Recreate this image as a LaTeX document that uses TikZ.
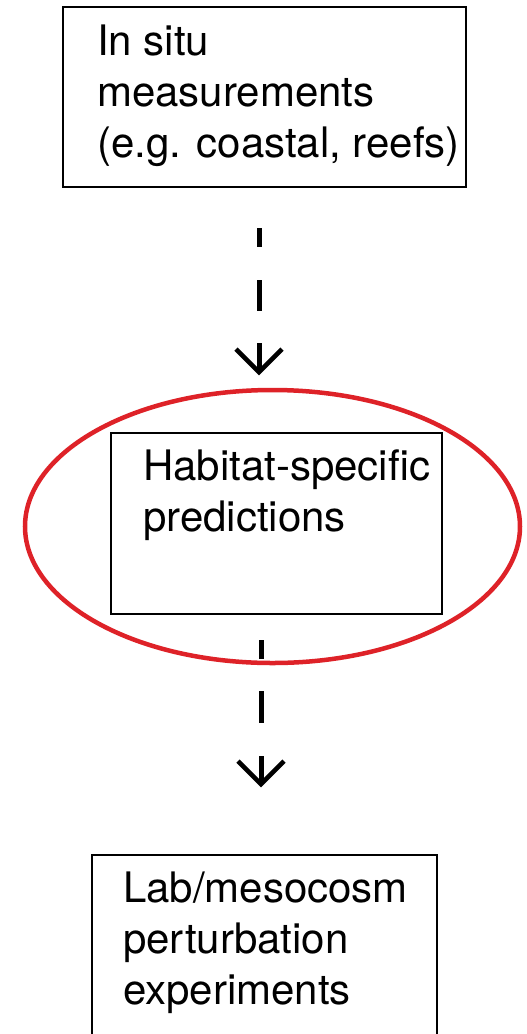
\documentclass[tikz,border=0pt]{standalone}
\usepackage{fontspec}
\setmainfont{TeX Gyre Heros}
\usetikzlibrary{shapes.geometric,arrows.meta}

\definecolor{ringred}{RGB}{222,34,40}

\tikzset{
  stagebox/.style={draw=black, line width=2.5pt, rectangle, inner sep=0pt},
  stagetext/.style={anchor=base west, align=left, inner sep=0pt,
    font=\fontsize{42}{51}\selectfont},
  focusring/.style={draw=ringred, line width=4.5pt, ellipse, inner sep=0pt},
  flowarrow/.style={line width=5pt,
    -{Straight Barb[length=23pt, width=46pt, line width=4.5pt]}},
}

\begin{document}
\begin{tikzpicture}[x=1pt, y=-1pt]
  \clip (0,0) rectangle (527,1034);
  \useasboundingbox (0,0) rectangle (527,1034);

  % boxes
  \node[stagebox, minimum width=403pt, minimum height=180pt] (insitu) at (264.5,97) {};
  \node[stagebox, minimum width=331pt, minimum height=181pt] (habitat) at (276.5,523.5) {};
  \node[stagebox, minimum width=345pt, minimum height=220pt] (lab) at (264.5,965) {};

  % emphasis ring around the habitat box
  \node[focusring, minimum width=495pt, minimum height=273pt] (ring) at (272.5,526.5) {};

  % labels (anchored at the baseline of their last line)
  \node[stagetext] (insitutext) at (97,157) {In situ\\measurements\\(e.g. coastal, reefs)};
  \node[stagetext] (habitattext) at (143,531) {Habitat-specific\\predictions};
  \node[stagetext] (labtext) at (123,1004) {Lab/mesocosm\\perturbation\\experiments};

  % dashed connectors between the stages
  \coordinate (a1s) at ([xshift=-5.5pt, yshift=-40pt]insitu.south);
  \coordinate (a1e) at ([xshift=-5.5pt, yshift=-187pt]insitu.south);
  \coordinate (a2s) at ([xshift=-15.5pt, yshift=-25pt]habitat.south);
  \coordinate (a2e) at ([xshift=-15.5pt, yshift=-172pt]habitat.south);

  \draw[flowarrow, dash pattern=on 19pt off 33pt on 31pt off 32pt on 60pt] (a1s) -- (a1e);
  \draw[flowarrow, dash pattern=on 19pt off 32pt on 32pt off 33pt on 60pt] (a2s) -- (a2e);
\end{tikzpicture}
\end{document}
